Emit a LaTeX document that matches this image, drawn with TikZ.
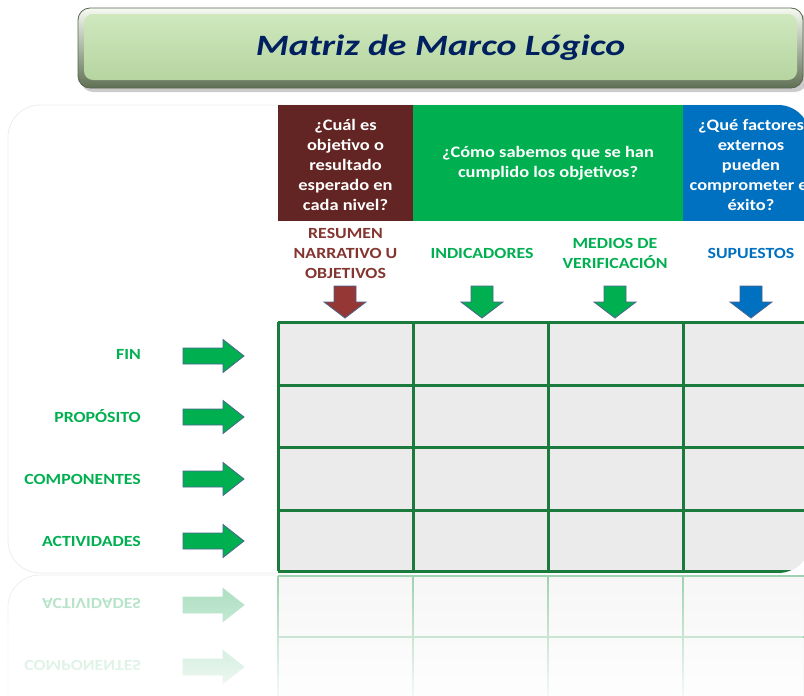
\documentclass[tikz,border=0pt]{standalone}
\usepackage{fontspec}
\setmainfont{Carlito}[FakeStretch=1.15]
\newfontfamily\titlefont{Carlito}[FakeStretch=1.28]
\usetikzlibrary{fadings}
\definecolor{brownhead}{HTML}{632523}
\definecolor{greenhead}{HTML}{00B050}
\definecolor{bluehead}{HTML}{0070C0}
\definecolor{brownlab}{HTML}{843530}
\definecolor{brownarr}{HTML}{953735}
\definecolor{gridgreen}{HTML}{1B7B3D}
\definecolor{cellgray}{HTML}{EBEBEB}
\definecolor{navy}{HTML}{002060}
\definecolor{arrline}{HTML}{4A648F}
\definecolor{reflgreen}{HTML}{A6DDBD}
\definecolor{refline}{HTML}{9FD2B2}
\definecolor{titleface}{HTML}{BFE0A8}
\tikzfading[name=reflfade, top color=transparent!100, bottom color=transparent!8]
\newcommand\RArr[3]{%
  \filldraw[fill=#2, draw=#3, line width=0.8] (183,#1-8) -- (223,#1-8) -- (223,#1-16.5) -- (244,#1) -- (223,#1+16.5) -- (223,#1+8) -- (183,#1+8) -- cycle;}
\newcommand\DArr[3]{%
  \filldraw[fill=#2, draw=#3, line width=0.8] (#1-11,286) -- (#1+11,286) -- (#1+11,302) -- (#1+21,302) -- (#1,318) -- (#1-21,302) -- (#1-11,302) -- cycle;}
\begin{document}
\begin{tikzpicture}[x=1pt,y=-1pt,
  headtxt/.style={text=white, font=\fontsize{16}{20}\selectfont\bfseries, align=center, inner sep=0pt},
  collab/.style={font=\fontsize{15.5}{20}\selectfont\bfseries, align=center, inner sep=0pt},
  rowlab/.style={anchor=east, text=greenhead, font=\fontsize{15.5}{20}\selectfont\bfseries, inner sep=0pt},
  reflab/.style={anchor=east, text=reflgreen, font=\fontsize{15.5}{20}\selectfont\bfseries, inner sep=0pt},
  gridln/.style={draw=gridgreen, line width=3pt},
  refln/.style={draw=refline, line width=2.5pt}]
\useasboundingbox (0,0) rectangle (804,696);
\clip (0,0) rectangle (804,696);

% ---------- title bar ----------
\fill[black!45, opacity=0.45, rounded corners=12] (81,12) rectangle (807,92);
\shade[top color=white!85!titleface, bottom color=titleface!50!black, rounded corners=12, draw=titleface!45!black, line width=0.8pt] (78,8) rectangle (803,88);
\shade[top color=titleface!75!white, bottom color=titleface!95!black, rounded corners=9] (84,14) rectangle (797,80);
\node[text=navy, font=\titlefont\fontsize{29.5}{34}\selectfont\bfseries\itshape, inner sep=0pt] (title) at (440.5,48) {Matriz de Marco Lógico};

% ---------- panel ----------
\fill[white, draw=black!7, line width=0.8pt, rounded corners=32] (8,105) rectangle (810,573);
\begin{scope}
  \clip[rounded corners=32] (8,105) rectangle (810,573);
  \fill[brownhead] (278,105) rectangle (413,221);
  \fill[greenhead] (413,105) rectangle (683,221);
  \fill[bluehead] (683,105) rectangle (820,221);
  \fill[cellgray] (278,322) rectangle (820,571);
  \foreach \yy in {322,385,447,510,571} \draw[gridln] (278,\yy) -- (820,\yy);
  \foreach \xx in {278,413,548,683} \draw[gridln] (\xx,322) -- (\xx,571);
\end{scope}

% header texts
\node[headtxt] (q1) at (345.5,165) {¿Cuál es\\objetivo o\\resultado\\esperado en\\cada nivel?};
\node[headtxt] (q2) at (548,163) {¿Cómo sabemos que se han\\cumplido los objetivos?};
\begin{scope}
  \clip[rounded corners=32] (8,105) rectangle (810,573);
  \node[headtxt] (q3) at (751,165) {¿Qué factores\\externos\\pueden\\comprometer el\\éxito?};
\end{scope}

% column labels
\node[collab, text=brownlab] (c1) at (345.5,253) {RESUMEN\\NARRATIVO U\\OBJETIVOS};
\node[collab, text=greenhead] (c2) at (482,253) {INDICADORES};
\node[collab, text=greenhead] (c3) at (615,253) {MEDIOS DE\\VERIFICACIÓN};
\node[collab, text=bluehead] (c4) at (751,253) {SUPUESTOS};

% down arrows
\DArr{345}{brownarr}{arrline}
\DArr{482}{greenhead}{arrline}
\DArr{615}{greenhead}{arrline}
\DArr{751}{bluehead}{arrline}

% row labels and arrows
\node[rowlab] (r1) at (141,354) {FIN};
\node[rowlab] (r2) at (141,416) {PROPÓSITO};
\node[rowlab] (r3) at (141,479) {COMPONENTES};
\node[rowlab] (r4) at (141,541) {ACTIVIDADES};
\RArr{356}{greenhead}{arrline}
\RArr{417}{greenhead}{arrline}
\RArr{479}{greenhead}{arrline}
\RArr{541}{greenhead}{arrline}

% ---------- reflection ----------
\draw[black!7, line width=0.8pt, rounded corners=32] (8,720) -- (8,575) -- (290,575);
\fill[black!3] (278,576) rectangle (820,720);
\foreach \yy in {576,637,699} \draw[refln] (278,\yy) -- (820,\yy);
\foreach \xx in {278,413,548,683} \draw[refln] (\xx,576) -- (\xx,720);
\node[reflab] (m1) at (141,604) {\scalebox{1}[-1]{ACTIVIDADES}};
\node[reflab] (m2) at (141,666) {\scalebox{1}[-1]{COMPONENTES}};
\RArr{605}{reflgreen}{reflgreen}
\RArr{667}{reflgreen}{reflgreen}
\fill[white, path fading=reflfade] (0,577) rectangle (804,700);
\end{tikzpicture}
\end{document}
